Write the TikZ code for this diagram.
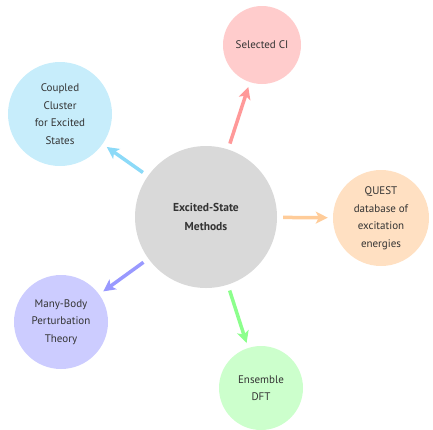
\documentclass[tikz,border=0pt]{standalone}
\usepackage{fontspec}
\setmainfont{PT Sans}
\usetikzlibrary{positioning,calc,arrows,arrows.meta}
\tikzset{font=\fontsize{11}{17.5}\selectfont}

\begin{document}
\begin{tikzpicture}[x=1pt, y=-1pt]
	\useasboundingbox (0, 0) rectangle (433, 429);
	\begin{scope}
		\tikzstyle{every node}=[align=center, inner sep=1pt, circle, text=black!80]
		\tikzstyle{arr}=[line width=3.5pt, -{Stealth[length=12pt, width=12pt, inset=3pt]}, shorten <=6pt, shorten >=5pt]
		\node[fill=black!15, minimum size=142pt, font=\fontsize{11.5}{19}\selectfont\bfseries] (methods) at (206, 217) {Excited-State\\Methods};
		\node[fill=red!20,    minimum size=78pt ] (sci)   at (262, 45)  {Selected CI};
		\node[fill=cyan!22,   minimum size=104pt] (cc)    at (60, 114)  {Coupled\\Cluster\\for Excited\\States};
		\node[fill=orange!24, minimum size=96pt ] (quest) at (381, 218) {QUEST\\database of\\excitation\\energies};
		\node[fill=blue!20,   minimum size=94pt ] (mbpt)  at (61, 322)  {Many-Body\\Perturbation\\Theory};
		\node[fill=green!20,  minimum size=84pt ] (edft)  at (261, 388) {Ensemble\\DFT};

		\draw[arr, red!40    ](methods) -- (sci);
		\draw[arr, cyan!45   ](methods) -- (cc);
		\draw[arr, orange!40 ](methods) -- (quest);
		\draw[arr, blue!40   ](methods) -- (mbpt);
		\draw[arr, green!45  ](methods) -- (edft);
	\end{scope}
\end{tikzpicture}
\end{document}
